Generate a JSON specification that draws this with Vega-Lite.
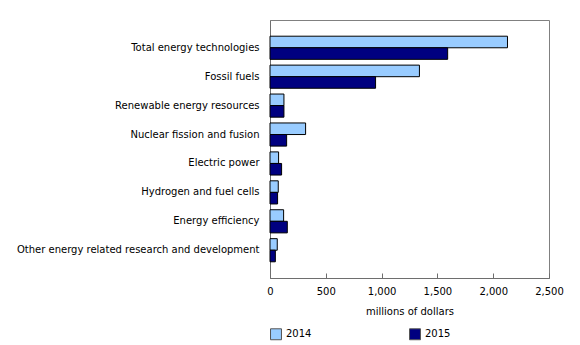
{
  "$schema": "https://vega.github.io/schema/vega-lite/v6.json",
  "autosize": {"type": "none"},
  "padding": {"left": 270, "top": 20, "right": 31, "bottom": 67},
  "width": 279,
  "height": 258,
  "config": {
    "font": "DejaVu Sans",
    "view": {"stroke": "#808080", "strokeWidth": 1},
    "axis": {"labelFont": "DejaVu Sans", "titleFont": "DejaVu Sans", "labelColor": "#000", "titleColor": "#000", "domainColor": "#6e6e6e", "tickColor": "#6e6e6e"}
  },
  "data": {
    "values": [
      {"category": "Total energy technologies", "year": "2014", "value": 2128},
      {"category": "Total energy technologies", "year": "2015", "value": 1592},
      {"category": "Fossil fuels", "year": "2014", "value": 1339},
      {"category": "Fossil fuels", "year": "2015", "value": 946},
      {"category": "Renewable energy resources", "year": "2014", "value": 125},
      {"category": "Renewable energy resources", "year": "2015", "value": 125},
      {"category": "Nuclear fission and fusion", "year": "2014", "value": 319},
      {"category": "Nuclear fission and fusion", "year": "2015", "value": 149},
      {"category": "Electric power", "year": "2014", "value": 77},
      {"category": "Electric power", "year": "2015", "value": 104},
      {"category": "Hydrogen and fuel cells", "year": "2014", "value": 74},
      {"category": "Hydrogen and fuel cells", "year": "2015", "value": 68},
      {"category": "Energy efficiency", "year": "2014", "value": 122},
      {"category": "Energy efficiency", "year": "2015", "value": 155},
      {"category": "Other energy related research and development", "year": "2014", "value": 65},
      {"category": "Other energy related research and development", "year": "2015", "value": 48}
    ]
  },
  "mark": {"type": "bar", "stroke": "#000000", "strokeWidth": 1},
  "encoding": {
    "y": {
      "field": "category",
      "type": "nominal",
      "sort": null,
      "scale": {"paddingInner": 0.2, "paddingOuter": 0.56},
      "axis": {"title": null, "ticks": false, "labelPadding": 11, "labelFontSize": 10, "labelLimit": 300}
    },
    "yOffset": {"field": "year", "type": "nominal", "sort": ["2014", "2015"]},
    "x": {
      "field": "value",
      "type": "quantitative",
      "scale": {"domain": [0, 2500]},
      "axis": {
        "title": "millions of dollars",
        "values": [0, 500, 1000, 1500, 2000, 2500],
        "format": ",d",
        "grid": false,
        "labelFlush": false,
        "tickSize": -5,
        "labelPadding": 13,
        "labelFontSize": 10,
        "titleFontSize": 10,
        "titleFontWeight": "normal",
        "titlePadding": 10
      }
    },
    "color": {
      "field": "year",
      "type": "nominal",
      "scale": {"domain": ["2014", "2015"], "range": ["#99ccff", "#000080"]},
      "legend": {
        "title": null,
        "orient": "none",
        "legendX": 0,
        "legendY": 308,
        "direction": "horizontal",
        "columns": 2,
        "columnPadding": 95,
        "symbolType": "square",
        "symbolSize": 120,
        "symbolStrokeColor": "#555555",
        "symbolStrokeWidth": 1,
        "labelFontSize": 10,
        "labelFont": "DejaVu Sans",
        "labelColor": "#000"
      }
    }
  }
}
